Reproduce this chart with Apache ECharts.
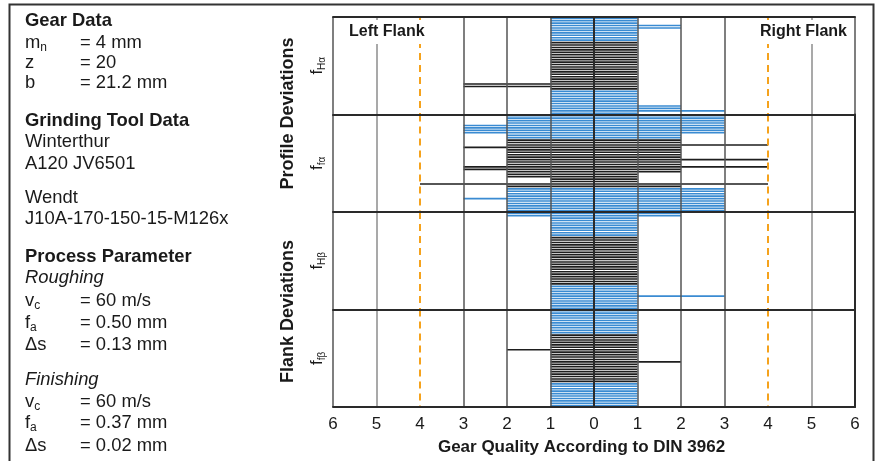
<!DOCTYPE html>
<html><head><meta charset="utf-8">
<script src="https://cdn.jsdelivr.net/npm/echarts@6/dist/echarts.min.js"></script>
<style>html,body{margin:0;padding:0;background:#fff}#c{width:880px;height:461px}</style>
</head><body><div id="c"></div>
<script>
// ---- data ----
const xTicks = [-6,-5,-4,-3,-2,-1,0,1,2,3,4,5,6];
const toleranceLines = [-4, 4];
const bandLabels = ['Hα','fα','Hβ','fβ'];
// measurement set of every row (A = blue, B = black)
const rowGroup = ['A','A','A','A','A','A','A','A','A','A',
  'B','B','B','B','B','B','B','B','B','B','B','B','B','B','B','B','B','B','B','B',
  'A','A','A','A','A','A','A','A','A','A'];
// quality class per row, left flank / right flank
const fHaLeft  = [1,1,1,1,1,1,1,1,1,1, 1,1,1,1,1,1,1,1,1,1,1,1,1,1,1,1,1,3,3,1, 1,1,1,1,1,1,1,1,1,1];
const fHaRight = [1,1,1,2,2,1,1,1,1,1, 1,1,1,1,1,1,1,1,1,1,1,1,1,1,1,1,1,1,1,1, 1,1,1,1,1,1,2,2,3,1];
const ffaLeft  = [2,2,2,2,3,3,3,3,2,2, 2,2,2,3,2,2,2,2,2,2,2,3,3,2,2,2,1,1,4,2, 2,2,2,2,3,2,2,2,2,2];
const ffaRight = [3,3,3,3,3,3,3,3,2,2, 2,2,4,2,2,2,2,2,4,2,2,4,2,2,1,1,1,1,4,2, 3,3,3,3,3,3,3,3,3,3];
const fHbLeft  = [2,2,1,1,1,1,1,1,1,1, 1,1,1,1,1,1,1,1,1,1,1,1,1,1,1,1,1,1,1,1, 1,1,1,1,1,1,1,1,1,1];
const fHbRight = [2,2,1,1,1,1,1,1,1,1, 1,1,1,1,1,1,1,1,1,1,1,1,1,1,1,1,1,1,1,1, 1,1,1,1,3,1,1,1,1,1];
const ffbLeft  = [1,1,1,1,1,1,1,1,1,1, 1,1,1,1,1,1,2,1,1,1,1,1,1,1,1,1,1,1,1,1, 1,1,1,1,1,1,1,1,1,1];
const ffbRight = [1,1,1,1,1,1,1,1,1,1, 1,1,1,1,1,1,1,1,1,1,1,2,1,1,1,1,1,1,1,1, 1,1,1,1,1,1,1,1,1,1];
const bands = [[fHaLeft,fHaRight],[ffaLeft,ffaRight],[fHbLeft,fHbRight],[ffbLeft,ffbRight]];

// ---- layout / style ----
const FONT = '"Liberation Sans", Arial, sans-serif';
const colors = {A:'#3a8bd2', B:'#1e1e1e'};
const gridLeft = 333, gridRight = 25, gridTop = 17, bandH = 97.5;
const rowNames = rowGroup.map((g,i)=>String(i+1));
const lineColor = t => toleranceLines.includes(t) ? 'rgba(0,0,0,0)' : (t===0 ? '#222' : (Math.abs(t)===5 ? '#8c8c8c' : '#555'));

const grids = [], xAxes = [], yAxes = [], series = [];
bands.forEach((b, i) => {
  grids.push({left: gridLeft, right: gridRight, top: gridTop + i*bandH, height: bandH, containLabel:false});
  xAxes.push({
    gridIndex: i, type:'value', min:-6, max:6, interval:1, z:5,
    axisLine:{show:true, onZero:false, lineStyle:{color:'#2a2a2a', width:2}},
    axisTick:{show:false},
    axisLabel:{show: i===3, formatter: v => String(Math.abs(v)), fontSize:17, color:'#1a1a1a', fontFamily:FONT, margin:9},
    splitLine:{show:true, lineStyle:{width:1.5, color: xTicks.map(lineColor)}}
  });
  yAxes.push({gridIndex:i, type:'category', data: rowNames, inverse:true, z:5,
    axisLine:{show:true, lineStyle:{color:'#2a2a2a', width:2}}, axisTick:{show:false}, axisLabel:{show:false}, splitLine:{show:false}});
  yAxes.push({gridIndex:i, type:'category', data: rowNames, inverse:true, position:'right', z:5,
    axisLine:{show:true, lineStyle:{color:'#2a2a2a', width:2}}, axisTick:{show:false}, axisLabel:{show:false}, splitLine:{show:false}});
  const mk = (arr, sign) => arr.map((q, r) => ({value: sign*q, itemStyle:{color: colors[rowGroup[r]]}}));
  series.push({type:'bar', xAxisIndex:i, yAxisIndex:2*i, data: mk(b[0], -1), barCategoryGap:'32%', barGap:'-100%', silent:true});
  series.push({type:'bar', xAxisIndex:i, yAxisIndex:2*i, data: mk(b[1], 1), barCategoryGap:'32%', barGap:'-100%', silent:true,
    markLine:{symbol:['none','none'], silent:true, label:{show:false}, z:4,
      lineStyle:{color:'#f5a21c', type:[7,5], width:2}, data: toleranceLines.map(v => ({xAxis:v}))}});
});
xAxes.push({gridIndex:0, type:'value', min:-6, max:6, interval:1, position:'top', z:5,
  axisLine:{show:true, onZero:false, lineStyle:{color:'#2a2a2a', width:2}}, axisTick:{show:false}, axisLabel:{show:false}, splitLine:{show:false}});

// ---- text ----
const g = [];
const FS = 18.4;
const txt = (x, y, text, opt={}) => g.push({type:'text', x, y, z:100, rotation: opt.rotation || 0, style: Object.assign({
  text, fontSize: FS, fontFamily: FONT, fill:'#1a1a1a', align:'left', verticalAlign:'middle',
  rich:{n:{fontSize:FS, fontFamily:FONT, fill:'#1a1a1a', lineHeight:22}, s:{fontSize:12, fontFamily:FONT, fill:'#1a1a1a', verticalAlign:'bottom', lineHeight:22}}
}, opt.style || {})});
const bold = {fontWeight:'bold'};
const ital = {fontStyle:'italic'};
const leftX = 25, eqX = 80;
txt(leftX, 20.5, 'Gear Data', {style:bold});
txt(leftX, 43, '{n|m}{s|n}'); txt(eqX, 43, '= 4 mm');
txt(leftX, 63, 'z'); txt(eqX, 63, '= 20');
txt(leftX, 83, 'b'); txt(eqX, 83, '= 21.2 mm');
txt(leftX, 120.5, 'Grinding Tool Data', {style:bold});
txt(leftX, 142, 'Winterthur');
txt(leftX, 163.5, 'A120 JV6501');
txt(leftX, 197.5, 'Wendt');
txt(leftX, 219, 'J10A-170-150-15-M126x');
txt(leftX, 256.5, 'Process Parameter', {style:bold});
txt(leftX, 278, 'Roughing', {style:ital});
txt(leftX, 301, '{n|v}{s|c}'); txt(eqX, 301, '= 60 m/s');
txt(leftX, 323, '{n|f}{s|a}'); txt(eqX, 323, '= 0.50 mm');
txt(leftX, 345, 'Δs'); txt(eqX, 345, '= 0.13 mm');
txt(leftX, 379.5, 'Finishing', {style:ital});
txt(leftX, 401.5, '{n|v}{s|c}'); txt(eqX, 401.5, '= 60 m/s');
txt(leftX, 423, '{n|f}{s|a}'); txt(eqX, 423, '= 0.37 mm');
txt(leftX, 445.5, 'Δs'); txt(eqX, 445.5, '= 0.02 mm');

// vertical titles
txt(288, 113.5, 'Profile Deviations', {rotation: Math.PI/2, style:{fontWeight:'bold', fontSize:18, align:'center'}});
txt(288, 311.5, 'Flank Deviations', {rotation: Math.PI/2, style:{fontWeight:'bold', fontSize:18, align:'center'}});
bandLabels.forEach((l, i) => txt(317, gridTop + (i+0.5)*bandH, '{n|f}{s|' + l + '}', {rotation: Math.PI/2, style:{align:'center',
  rich:{n:{fontSize:17, fontFamily:FONT, fill:'#1a1a1a', lineHeight:20}, s:{fontSize:10, fontFamily:FONT, fill:'#1a1a1a', verticalAlign:'bottom', lineHeight:20}}}}));

// flank labels
txt(343, 32, 'Left Flank', {style:{fontWeight:'bold', fontSize:16, backgroundColor:'#fff', padding:[4,3,4,6]}});
txt(848, 32, 'Right Flank', {style:{fontWeight:'bold', fontSize:16, align:'right', backgroundColor:'#fff', padding:[4,1,4,4]}});
// axis title
txt(581.5, 447.5, 'Gear Quality According to DIN 3962', {style:{fontWeight:'bold', fontSize:17, align:'center'}});
// frame
g.push({type:'rect', z:100, shape:{x:9.5, y:4.5, width:864, height:500}, style:{fill:'none', stroke:'#333', lineWidth:2}});

const chart = echarts.init(document.getElementById('c'), null, {renderer:'canvas'});
chart.setOption({
  animation:false, backgroundColor:'#fff',
  grid: grids, xAxis: xAxes, yAxis: yAxes, series, graphic: g
});
</script></body></html>
